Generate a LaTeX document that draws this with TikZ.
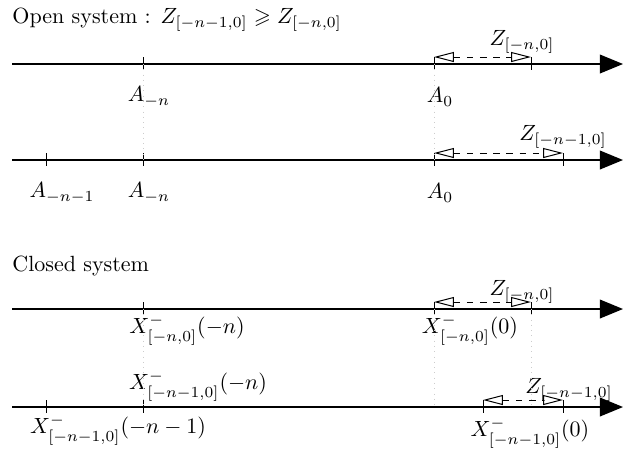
\documentclass[tikz,border=0pt]{standalone}
\usepackage{amsmath,amssymb}
\usepackage{tikz}
\usetikzlibrary{arrows.meta}

\begin{document}
\begin{tikzpicture}[
  x=0.4545pt, y={(0pt,-0.4545pt)},
  axis/.style={line width=0.65pt, -{Triangle[length=10.5pt,width=8.5pt]}},
  tick/.style={line width=0.45pt},
  span/.style={dashed, line width=0.45pt,
    {Triangle[open,length=9pt,width=4.5pt]}-{Triangle[open,length=9pt,width=4.5pt]}},
  guide/.style={dotted, line width=0.4pt, gray!40},
  lbl/.style={inner sep=1pt},
  title/.style={anchor=west, inner sep=0pt},
  every node/.style={font=\normalsize}
]
\useasboundingbox (0,0) rectangle (623,449);

% titles
\node[title] (open) at (12,20) {Open system : $Z_{[-n-1,0]}\geqslant Z_{[-n,0]}$};
\node[title] (closed) at (12,266) {Closed system};

% open system, first line
\coordinate (a1s) at (12,64);  \coordinate (a1e) at (623,64);
\coordinate (a1n) at (143,64); \coordinate (a1o) at (434,64); \coordinate (a1z) at (531,64);
\draw[axis] (a1s) -- (a1e);
\foreach \t in {a1n,a1o,a1z} \draw[tick] (\t) ++(0,-7) -- ++(0,13);
\coordinate (z1a) at (434,57); \coordinate (z1b) at (531,57);
\draw[span] (z1a) -- (z1b);
\node[lbl] (zl1) at (522,42) {$Z_{[-n,0]}$};
\node[lbl] (an1) at (149,97) {$A_{-n}$};
\node[lbl] (ao1) at (440,97) {$A_0$};

% open system, second line
\coordinate (a2s) at (12,160); \coordinate (a2e) at (623,160);
\coordinate (a2m) at (46,160); \coordinate (a2n) at (143,160);
\coordinate (a2o) at (434,160); \coordinate (a2z) at (563,160);
\draw[axis] (a2s) -- (a2e);
\foreach \t in {a2m,a2n,a2o,a2z} \draw[tick] (\t) ++(0,-7) -- ++(0,13);
\coordinate (z2a) at (434,153); \coordinate (z2b) at (563,153);
\draw[span] (z2a) -- (z2b);
\node[lbl] (zl2) at (563,137) {$Z_{[-n-1,0]}$};
\node[lbl] (am2) at (62,193) {$A_{-n-1}$};
\node[lbl] (an2) at (149,193) {$A_{-n}$};
\node[lbl] (ao2) at (440,193) {$A_0$};
\draw[guide] (a1n) -- (a2n);
\draw[guide] (a1o) -- (a2o);

% closed system, first line
\coordinate (x1s) at (12,309); \coordinate (x1e) at (623,309);
\coordinate (x1n) at (143,309); \coordinate (x1o) at (434,309); \coordinate (x1z) at (531,309);
\draw[axis] (x1s) -- (x1e);
\foreach \t in {x1n,x1o,x1z} \draw[tick] (\t) ++(0,-7) -- ++(0,13);
\coordinate (z3a) at (434,302); \coordinate (z3b) at (531,302);
\draw[span] (z3a) -- (z3b);
\node[lbl] (zl3) at (522,292) {$Z_{[-n,0]}$};
\node[lbl] (xn1) at (187,330) {$X^-_{[-n,0]}(-n)$};
\node[lbl] (xo1) at (470,330) {$X^-_{[-n,0]}(0)$};

% closed system, second line
\coordinate (x2s) at (12,407); \coordinate (x2e) at (623,407);
\coordinate (x2m) at (46,407); \coordinate (x2n) at (143,407);
\coordinate (x2o) at (483,407); \coordinate (x2z) at (563,407);
\coordinate (x2a) at (434,407); \coordinate (x2b) at (531,407);
\draw[axis] (x2s) -- (x2e);
\foreach \t in {x2m,x2n,x2o,x2z} \draw[tick] (\t) ++(0,-7) -- ++(0,13);
\coordinate (z4a) at (483,400); \coordinate (z4b) at (563,400);
\draw[span] (z4a) -- (z4b);
\node[lbl] (zl4) at (569,390) {$Z_{[-n-1,0]}$};
\node[lbl] (xn2) at (198,386) {$X^-_{[-n-1,0]}(-n)$};
\node[lbl] (xm2) at (118,430) {$X^-_{[-n-1,0]}(-n-1)$};
\node[lbl] (xo2) at (530,433) {$X^-_{[-n-1,0]}(0)$};
\draw[guide] (x1n) -- (x2n);
\draw[guide] (x1o) -- (x2a);
\draw[guide] (x1z) -- (x2b);
\end{tikzpicture}
\end{document}
